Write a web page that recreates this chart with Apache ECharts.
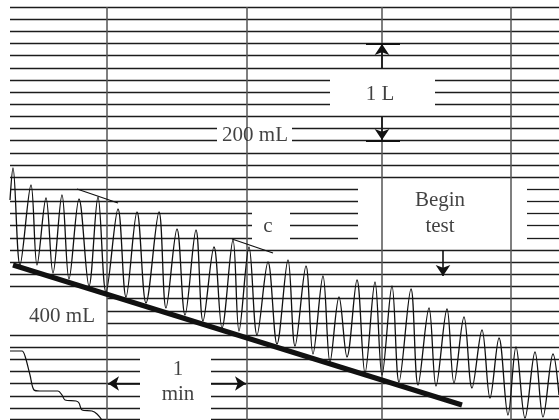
<!DOCTYPE html>
<html>
<head>
<meta charset="utf-8">
<script src="https://cdn.jsdelivr.net/npm/echarts@6/dist/echarts.min.js"></script>
<style>
  html, body { margin: 0; padding: 0; background: #fff; }
  #chart { width: 559px; height: 420px; }
</style>
</head>
<body>
<div id="chart"></div>
<script>
// paper rulings, chart units follow the original drawing
var rulingRows = [7, 19, 31, 43.5, 55.5, 68, 80, 92, 104, 116.5, 128.5, 140.5, 153, 165, 177,
  189, 201.5, 213.5, 225.5, 238, 250, 262, 274.5, 286.5, 298.5, 311, 323, 335, 347,
  359.5, 371.5, 383.5, 396, 408, 419.5];
var rulingCols = [107, 247, 382, 511];
var rulingLeft = 10, rulingRight = 559, paperTop = 7, paperBottom = 420;

// label boxes where the rulings are left out: [x0, x1, y0, y1]
var blanks = [
  [217, 292, 125, 145],
  [330, 435, 75, 110],
  [252, 290, 208, 242],
  [358, 527, 185, 242],
  [0, 107, 294, 328],
  [140, 211, 355, 425]
];
var colBreaks = { 382: [68, 117] };

// spirometer tracing: alternating peaks / troughs
var traceX = [10, 13, 20, 31, 37, 46, 53, 62, 69, 79, 89, 98, 106, 118, 126, 137, 146,
  159, 166, 177, 185, 196, 203, 214, 222, 233, 239, 249, 257, 268, 277, 288, 295,
  306, 313, 323, 330, 339, 347, 357, 365, 375, 382, 392, 399, 411, 418, 429, 436,
  447, 454, 464, 472, 482, 490, 499, 508, 516, 525, 535, 543, 553, 559];
var traceY = [200, 168, 265, 185, 265, 198, 273, 195, 279, 199, 286, 197, 292, 209, 297, 212, 303,
  212, 308, 229, 315, 230, 321, 247, 328, 240, 331, 247, 335, 262, 344, 260, 346,
  266, 354, 276, 362, 297, 357, 280, 373, 282, 375, 286, 382, 289, 385, 308, 386,
  309, 383, 317, 388, 330, 398, 338, 415, 347, 418, 352, 417, 354, 395];

// drift line and the two "c" slope marks
var driftLine = [[13, 265], [462, 405]];
var slopeLines = [[[77, 189], [118, 203]], [[232, 239], [273, 253]]];

// small recording at bottom left
var stepX = [10, 22, 25, 30, 34, 40, 58, 62, 65, 76, 79, 82, 92, 97, 102];
var stepY = [351, 351, 356, 375, 390, 391, 391, 395, 400, 401, 403, 410, 411, 414, 420];

// arrows and end ticks
var arrows = [
  [[382, 68], [382, 44]],
  [[382, 117], [382, 140]],
  [[443, 250], [443, 276]],
  [[140, 383.5], [108, 383.5]],
  [[211, 383.5], [246, 383.5]]
];
var ticks = [[[366, 43.5], [400, 43.5]], [[366, 140.5], [400, 140.5]]];

var labelNames = ['200 mL', '1 L', 'c', 'Begin', 'test', '400 mL', '1', 'min'];
var labelAt = [[255, 135], [380, 94], [268, 226], [440, 200], [440, 226], [62, 316], [178, 369], [178, 394]];

function rowSegments(y) {
  var segs = [[rulingLeft, rulingRight]];
  blanks.forEach(function (b) {
    if (y < b[2] || y > b[3]) return;
    var out = [];
    segs.forEach(function (s) {
      if (b[1] <= s[0] || b[0] >= s[1]) { out.push(s); return; }
      if (b[0] > s[0]) out.push([s[0], b[0]]);
      if (b[1] < s[1]) out.push([b[1], s[1]]);
    });
    segs = out;
  });
  return segs;
}

var rowData = [];
rulingRows.forEach(function (y) {
  rowSegments(y).forEach(function (s) {
    rowData.push({ coords: [[s[0], y], [s[1], y]] });
  });
});

var colData = [];
rulingCols.forEach(function (x) {
  var br = colBreaks[x];
  if (br) {
    colData.push({ coords: [[x, paperTop], [x, br[0]]] });
    colData.push({ coords: [[x, br[1]], [x, paperBottom]] });
  } else {
    colData.push({ coords: [[x, paperTop], [x, paperBottom]] });
  }
});

var chart = echarts.init(document.getElementById('chart'));

var option = {
  animation: false,
  backgroundColor: '#fff',
  grid: { left: 0, right: 0, top: 0, bottom: 0 },
  xAxis: { type: 'value', min: 0, max: 559, show: false },
  yAxis: { type: 'value', min: 0, max: 420, inverse: true, show: false },
  series: [
    {
      type: 'lines', coordinateSystem: 'cartesian2d', silent: true, z: 1,
      lineStyle: { color: '#1c1c1c', width: 1.3, opacity: 1 },
      data: rowData
    },
    {
      type: 'lines', coordinateSystem: 'cartesian2d', silent: true, z: 1,
      lineStyle: { color: '#555', width: 1.5, opacity: 1 },
      data: colData
    },
    {
      type: 'line', silent: true, z: 3,
      data: traceX.map(function (x, i) { return [x, traceY[i]]; }),
      smooth: 0.35, showSymbol: false,
      lineStyle: { color: '#111', width: 1.3 }
    },
    {
      type: 'line', silent: true, z: 3,
      data: stepX.map(function (x, i) { return [x, stepY[i]]; }),
      smooth: 0.3, showSymbol: false,
      lineStyle: { color: '#111', width: 1.2 }
    },
    {
      type: 'lines', coordinateSystem: 'cartesian2d', silent: true, z: 4,
      lineStyle: { color: '#111', width: 5, opacity: 1 },
      data: [{ coords: driftLine }]
    },
    {
      type: 'lines', coordinateSystem: 'cartesian2d', silent: true, z: 4,
      lineStyle: { color: '#111', width: 1.2, opacity: 1 },
      data: slopeLines.map(function (c) { return { coords: c }; })
        .concat(ticks.map(function (c) { return { coords: c, lineStyle: { width: 2 } }; }))
    },
    {
      type: 'lines', coordinateSystem: 'cartesian2d', silent: true, z: 4,
      symbol: ['none', 'arrow'], symbolSize: 11,
      lineStyle: { color: '#111', width: 1.6, opacity: 1 },
      data: arrows.map(function (c) { return { coords: c }; })
    },
    {
      type: 'scatter', silent: true, z: 5, symbolSize: 0,
      label: {
        show: true, position: 'inside', formatter: '{b}',
        fontFamily: 'Liberation Serif', fontSize: 21, color: '#111'
      },
      data: labelNames.map(function (n, i) { return { name: n, value: labelAt[i] }; })
    }
  ]
};

option && chart.setOption(option);
</script>
</body>
</html>
